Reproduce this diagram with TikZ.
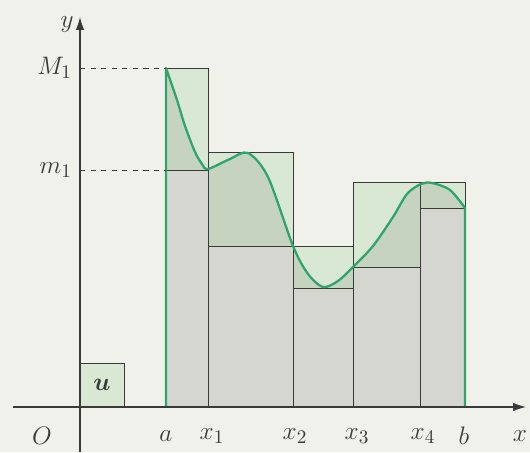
\documentclass[tikz,border=0pt]{standalone}
\usepackage{amsmath,amssymb}
\usepackage{xcolor}
\usepackage{tikz}
\usetikzlibrary{arrows.meta,positioning,calc}
\definecolor{Paper}{HTML}{F1F1EB}
\definecolor{Ink}{HTML}{3A3A3A}
\definecolor{Upper}{HTML}{D9E8D2}
\definecolor{Under}{HTML}{C6D4BF}
\definecolor{Lower}{HTML}{D6D6D1}
\definecolor{Graph}{HTML}{2FA56B}
\tikzset{
  axis/.style={draw=Ink,line width=.6pt,-{Latex[length=2.6mm,width=1.7mm]}},
  upbox/.style={fill=Upper,draw=Ink,line width=.5pt},
  lowbox/.style={fill=Lower,draw=Ink,line width=.5pt},
  frame/.style={draw=Ink,line width=.5pt},
  guide/.style={draw=Ink,dashed,line width=.5pt},
  graph/.style={draw=Graph,line width=1.3pt,line join=round},
  lbl/.style={text=Ink,font=\fontsize{15}{18}\selectfont,inner sep=1pt}
}

\begin{document}
\begin{tikzpicture}[x=.02cm,y=.02cm]
  \fill[Paper] (-80,-45) rectangle (450,407);
  % upper sums
  \draw[upbox] (86,0) rectangle (128,339);
  \draw[upbox] (128,0) rectangle (213,255);
  \draw[upbox] (213,0) rectangle (273,161);
  \draw[upbox] (273,0) rectangle (340,225);
  \draw[upbox] (340,0) rectangle (385,225);
  % area below the graph
  \begin{scope}
    \clip (86,0) rectangle (128,339) (128,0) rectangle (213,255)
      (213,0) rectangle (273,161) (273,0) rectangle (385,225);
    \fill[Under] (86,0) -- plot[smooth] coordinates {(86,339) (97,307) (105,281) (115,255) (122,243) (128,238) (150,248) (168,254) (188,230) (213,161) (228,133) (243,120) (258,126) (273,140) (293,161) (313,190) (327,213) (341,223) (352,224) (370,217) (385,199)} -- (385,0) -- cycle;
  \end{scope}
  % lower sums
  \draw[lowbox] (86,0) rectangle (128,237);
  \draw[lowbox] (128,0) rectangle (213,161);
  \draw[lowbox] (213,0) rectangle (273,119);
  \draw[lowbox] (273,0) rectangle (340,140);
  \draw[lowbox] (340,0) rectangle (385,199);
  \draw[frame] (86,0) rectangle (128,339) (128,0) rectangle (213,255)
    (213,0) rectangle (273,161) (273,0) rectangle (385,225) (340,0) -- (340,225);
  % unit square
  \draw[upbox] (0,0) rectangle (44,44);
  \node[lbl] (u) at (22,22) {$\boldsymbol{u}$};
  % graph
  \draw[graph] (86,0) -- plot[smooth] coordinates {(86,339) (97,307) (105,281) (115,255) (122,243) (128,238) (150,248) (168,254) (188,230) (213,161) (228,133) (243,120) (258,126) (273,140) (293,161) (313,190) (327,213) (341,223) (352,224) (370,217) (385,199)} -- (385,0);
  % axes
  \coordinate (O) at (0,0);
  \coordinate (M) at (86,339);
  \coordinate (m) at (86,237);
  \draw[guide] (0,339) -- (M);
  \draw[guide] (0,237) -- (m);
  \draw[axis] (-67,0) -- (446,0);
  \draw[axis] (0,-45) -- (0,390);
  \node[lbl] (ylbl) at (-13,382) {$y$};
  \node[lbl,anchor=east] (M1) at (-6,339) {$M_1$};
  \node[lbl,anchor=east] (m1) at (-6,237) {$m_1$};
  \node[lbl] (Olbl) at (-38,-29) {$O$};
  \node[lbl] (albl) at (86,-29) {$a$};
  \node[lbl] (x1) at (132,-29) {$x_1$};
  \node[lbl] (x2) at (215,-29) {$x_2$};
  \node[lbl] (x3) at (277,-29) {$x_3$};
  \node[lbl] (x4) at (343,-29) {$x_4$};
  \node[lbl] (blbl) at (384,-29) {$b$};
  \node[lbl] (xlbl) at (440,-29) {$x$};
\end{tikzpicture}
\end{document}
